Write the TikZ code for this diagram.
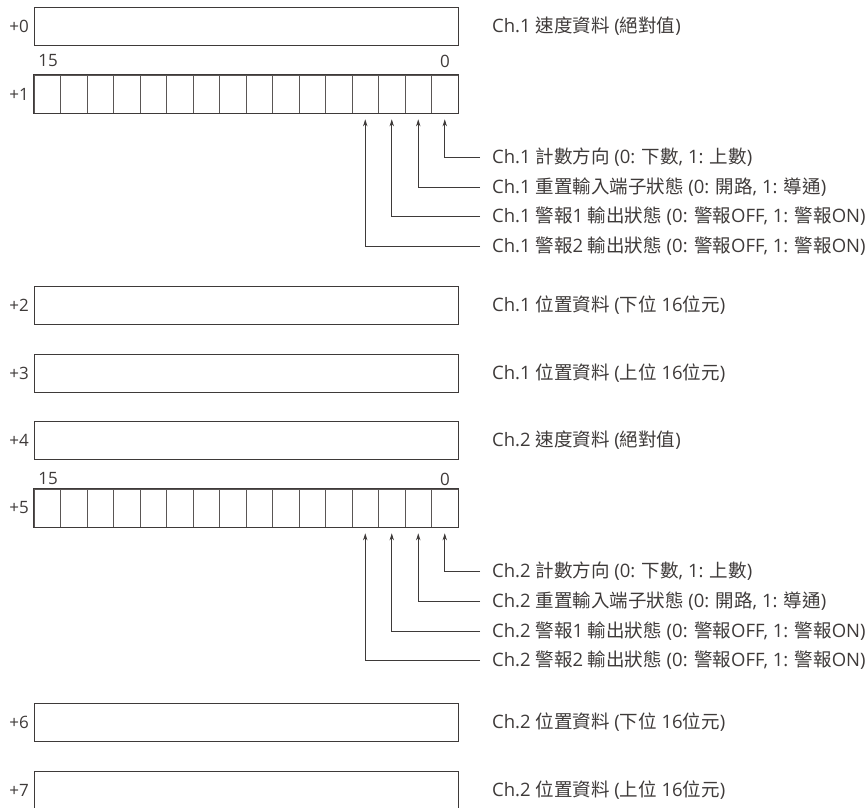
\documentclass[tikz,border=0pt]{standalone}
\usepackage{fontspec}
\setmainfont{Open Sans}
\newfontfamily\cjkfam{Noto Sans CJK TC}
\newcommand\zh[1]{{\cjkfam #1}}
\usetikzlibrary{arrows.meta}
\definecolor{ink}{HTML}{3E3A39}
\definecolor{cellc}{HTML}{5A5655}
\begin{document}
\begin{tikzpicture}[x=1pt,y=-1pt,
  every node/.style={text=ink,font=\fontsize{17}{19}\selectfont},
  wordbox/.style={draw=ink,line width=0.9pt,minimum width=424pt,minimum height=38pt,inner sep=0pt},
  bitcell/.style={draw=cellc,line width=0.8pt,minimum width=26.5pt,minimum height=38pt,inner sep=0pt},
  offs/.style={anchor=east,inner sep=0pt},
  desc/.style={anchor=west,inner sep=0pt,font=\fontsize{18.5}{20}\selectfont},
  bitno/.style={inner sep=0pt},
  callout/.style={draw=ink,line width=0.8pt,-{Stealth[length=7pt,width=4.5pt]}}]
\useasboundingbox (0,0) rectangle (867,807);
% word boxes
\node[wordbox] (w0) at (246,26) {};
\node[wordbox] (w2) at (246,305) {};
\node[wordbox] (w3) at (246,373) {};
\node[wordbox] (w4) at (246,440) {};
\node[wordbox] (w6) at (246,722) {};
\node[wordbox] (w7) at (246,790) {};
% bit cells
\foreach \b in {0,...,15}{
  \node[bitcell] (a\b) at ({458-13.25-26.5*\b},94) {};
  \node[bitcell] (c\b) at ({458-13.25-26.5*\b},508) {};
}
\draw[ink,line width=0.9pt] (a15.north west) rectangle (a0.south east);
\draw[ink,line width=0.9pt] (c15.north west) rectangle (c0.south east);
% offsets
\node[offs] (o0) at (29,26) {+0};
\node[offs] (o1) at (29,94) {+1};
\node[offs] (o2) at (29,305) {+2};
\node[offs] (o3) at (29,373) {+3};
\node[offs] (o4) at (29,440) {+4};
\node[offs] (o5) at (29,508) {+5};
\node[offs] (o6) at (29,722) {+6};
\node[offs] (o7) at (29,790) {+7};
% bit numbers
\node[bitno] (n15a) at (48,61) {15};
\node[bitno] (n0a) at (445,61) {0};
\node[bitno] (n15c) at (48,479) {15};
\node[bitno] (n0c) at (445,479) {0};
% descriptions
\node[desc] (d0) at (492,26) {Ch.1 \zh{速度資料} (\zh{絕對值})};
\node[desc] (d2) at (492,305) {Ch.1 \zh{位置資料} (\zh{下位} 16\zh{位元})};
\node[desc] (d3) at (492,373) {Ch.1 \zh{位置資料} (\zh{上位} 16\zh{位元})};
\node[desc] (d4) at (492,440) {Ch.2 \zh{速度資料} (\zh{絕對值})};
\node[desc] (d6) at (492,722) {Ch.2 \zh{位置資料} (\zh{下位} 16\zh{位元})};
\node[desc] (d7) at (492,790) {Ch.2 \zh{位置資料} (\zh{上位} 16\zh{位元})};
\node[desc] (e0) at (492,157) {Ch.1 \zh{計數方向} (0: \zh{下數}, 1: \zh{上數})};
\node[desc] (e1) at (492,187) {Ch.1 \zh{重置輸入端子狀態} (0: \zh{開路}, 1: \zh{導通})};
\node[desc] (e2) at (492,216) {Ch.1 \zh{警報}1 \zh{輸出狀態} (0: \zh{警報}OFF, 1: \zh{警報}ON)};
\node[desc] (e3) at (492,246) {Ch.1 \zh{警報}2 \zh{輸出狀態} (0: \zh{警報}OFF, 1: \zh{警報}ON)};
\node[desc] (f0) at (492,571) {Ch.2 \zh{計數方向} (0: \zh{下數}, 1: \zh{上數})};
\node[desc] (f1) at (492,601) {Ch.2 \zh{重置輸入端子狀態} (0: \zh{開路}, 1: \zh{導通})};
\node[desc] (f2) at (492,631) {Ch.2 \zh{警報}1 \zh{輸出狀態} (0: \zh{警報}OFF, 1: \zh{警報}ON)};
\node[desc] (f3) at (492,660) {Ch.2 \zh{警報}2 \zh{輸出狀態} (0: \zh{警報}OFF, 1: \zh{警報}ON)};
% callouts
\foreach \i in {0,...,3}{
  \draw[callout] ([xshift=-12pt]e\i.west) -| ([yshift=-6pt]a\i.south);
  \draw[callout] ([xshift=-12pt]f\i.west) -| ([yshift=-6pt]c\i.south);
}
\end{tikzpicture}
\end{document}
